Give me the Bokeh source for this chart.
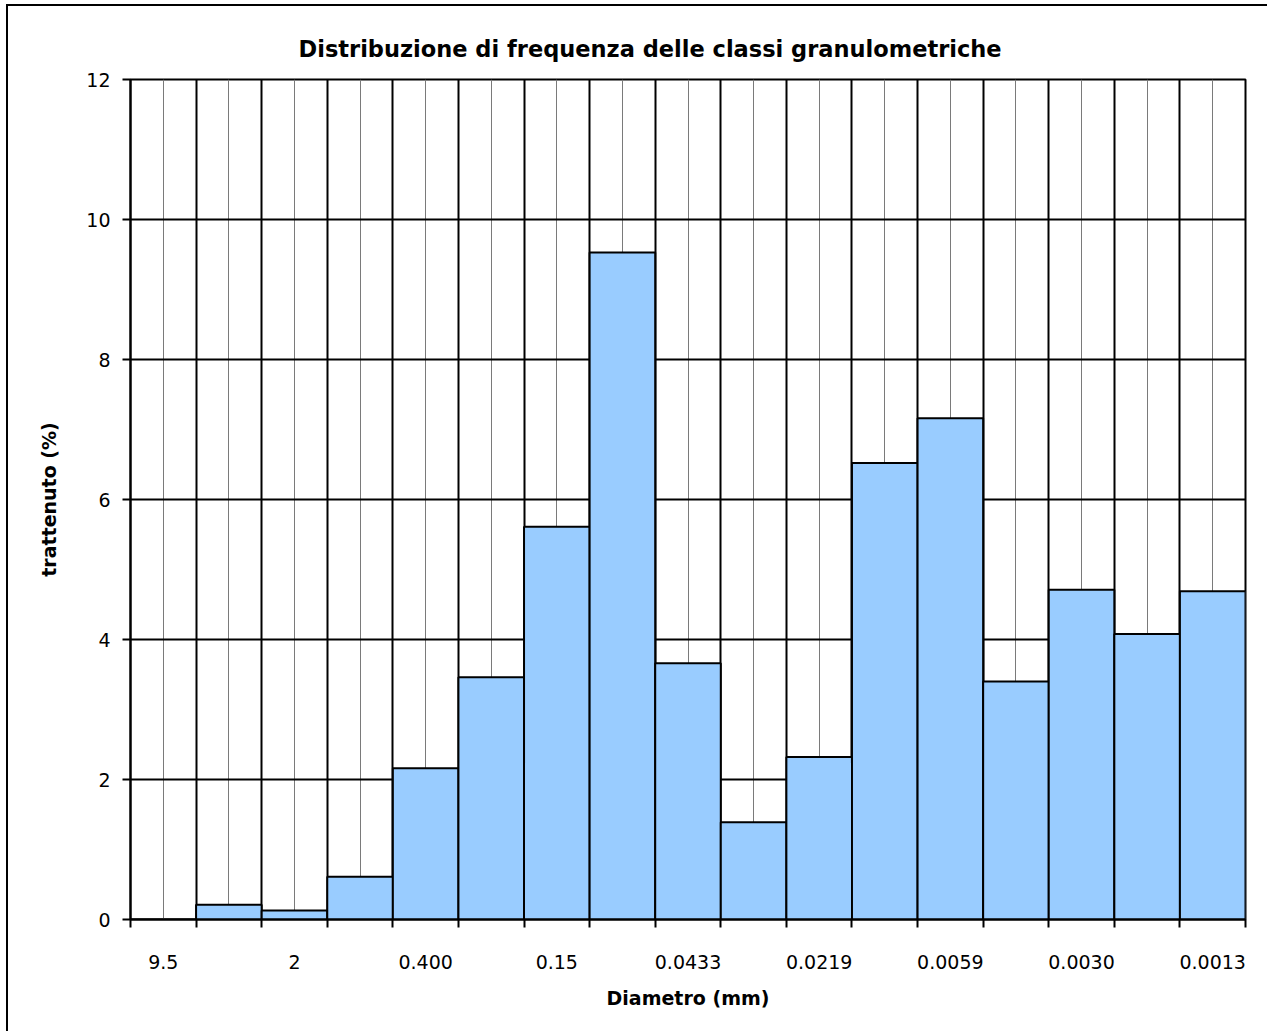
from bokeh.plotting import figure
from bokeh.models import FixedTicker, Range1d
from bokeh.embed import file_html
from bokeh.resources import INLINE

# ---- data ----
title_text = "Distribuzione di frequenza delle classi granulometriche"
x_title = "Diametro (mm)"
y_title = "trattenuto (%)"
# retained percentage for each of the 17 size classes (coarse -> fine)
values = [0.0, 0.21, 0.13, 0.61, 2.16, 3.46, 5.61, 9.53, 3.66, 1.39,
          2.32, 6.52, 7.16, 3.40, 4.71, 4.08, 4.69]
# diameter labels shown on every other class
tick_labels = ["9.5", "2", "0.400", "0.15", "0.0433", "0.0219",
               "0.0059", "0.0030", "0.0013"]
y_ticks = [0, 2, 4, 6, 8, 10, 12]

n = len(values)
centers = [i + 0.5 for i in range(n)]
boundaries = list(range(n + 1))
label_pos = centers[::2]

FONT = "DejaVu Sans"

p = figure(frame_width=1115, frame_height=840,
           x_range=Range1d(0, n), y_range=Range1d(0, 12),
           output_backend="svg", toolbar_location=None,
           min_border_left=122, min_border_right=22,
           min_border_top=73, min_border_bottom=112,
           background_fill_color="white", border_fill_color="white")

p.styles = {"border-top": "2px solid black", "border-left": "2px solid black",
            "margin-left": "6px", "margin-top": "4px"}

p.title.text = title_text
p.title.align = "left"
p.title.offset = 168
p.title.standoff = 35
p.title.text_font = FONT
p.title.text_font_size = "22.5px"
p.title.text_font_style = "bold"
p.title.text_color = "black"

p.vbar(x=centers, top=values, width=1, bottom=0,
       fill_color="#99CCFF", line_color="black", line_width=2)

# x axis
p.xaxis.ticker = FixedTicker(ticks=label_pos, minor_ticks=boundaries)
p.xaxis.major_label_overrides = {pos: lab for pos, lab in zip(label_pos, tick_labels)}
p.xaxis.major_tick_out = 8
p.xaxis.major_tick_in = 0
p.xaxis.minor_tick_out = 8
p.xaxis.minor_tick_in = 0
p.xaxis.minor_tick_line_color = "black"
p.xaxis.minor_tick_line_width = 2
p.xaxis.major_label_standoff = 27
p.xaxis.axis_label = x_title
p.xaxis.axis_label_standoff = 15

# y axis
p.yaxis.ticker = FixedTicker(ticks=y_ticks)
p.yaxis.major_tick_out = 8
p.yaxis.major_tick_in = 0
p.yaxis.minor_tick_line_color = None
p.yaxis.major_label_standoff = 12
p.yaxis.axis_label = y_title
p.yaxis.axis_label_standoff = 23

for ax in (p.xaxis, p.yaxis):
    ax.axis_line_color = "black"
    ax.axis_line_width = 2
    ax.major_tick_line_width = 2
    ax.major_label_text_font = FONT
    ax.major_label_text_font_size = "19px"
    ax.major_label_text_color = "black"
    ax.axis_label_text_font = FONT
    ax.axis_label_text_font_size = "19px"
    ax.axis_label_text_font_style = "bold"
    ax.axis_label_text_color = "black"
p.xaxis.major_tick_line_color = None

# grids
p.xgrid.ticker = FixedTicker(ticks=centers, minor_ticks=boundaries)
p.xgrid.grid_line_color = "#7a7a7a"
p.xgrid.grid_line_width = 1
p.xgrid.minor_grid_line_color = "black"
p.xgrid.minor_grid_line_width = 2
p.ygrid.ticker = FixedTicker(ticks=y_ticks)
p.ygrid.grid_line_color = "black"
p.ygrid.grid_line_width = 2

p.outline_line_color = "black"
p.outline_line_width = 2

open("out.html", "w").write(file_html(p, INLINE))
